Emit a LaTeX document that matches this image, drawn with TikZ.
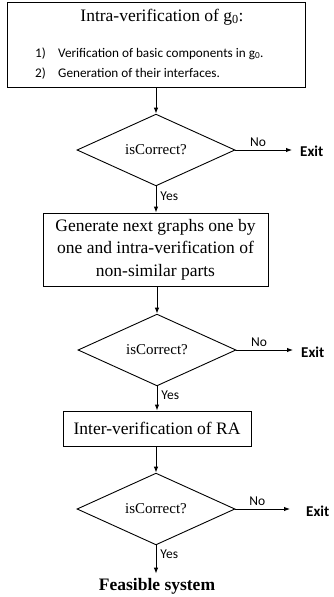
\documentclass[tikz,border=0pt]{standalone}
\usepackage{fontspec}
\setmainfont{Liberation Serif}
\newfontfamily\carlito{Carlito}
\usetikzlibrary{shapes.geometric,arrows.meta}
\begin{document}
\begin{tikzpicture}[x=1pt,y=-1pt,
  box/.style={draw, line width=0.9pt, inner sep=0pt, align=center,
    font=\fontsize{17.5}{22.7}\selectfont},
  decision/.style={diamond, draw, line width=0.9pt, inner sep=0pt,
    minimum width=158pt, minimum height=59pt, font=\fontsize{15}{18}\selectfont},
  flow/.style={-{Latex[length=6pt,width=4.5pt]}, line width=0.9pt},
  tag/.style={font=\carlito\fontsize{13.5}{16}\selectfont, inner sep=0pt},
  exitlbl/.style={font=\carlito\bfseries\fontsize{15}{18}\selectfont,
    inner sep=0pt, anchor=west},
  item/.style={font=\carlito\fontsize{13.2}{16}\selectfont, inner sep=0pt,
    anchor=base west},
]
\useasboundingbox (0,0) rectangle (334,597);

% first stage: intra-verification of g0
\node[box, minimum width=298pt, minimum height=85pt] (init) at (156,44.5) {};
\node[font=\fontsize{17.5}{20}\selectfont, inner sep=0pt, anchor=base]
  (title) at (162,21) {Intra-verification of g\textsubscript{0}:};
\node[item] (n1) at (35,57) {1)};
\node[item] (t1) at (58,57) {Verification of basic components in g\textsubscript{0}.};
\node[item] (n2) at (35,77) {2)};
\node[item] (t2) at (58,77) {Generation of their interfaces.};

% decisions and processing steps
\node[decision] (d1) at (156,150) {isCorrect?};
\node[box, minimum width=225pt, minimum height=73pt] (gen) at (155.5,249.5)
  {Generate next graphs one by\\one and intra-verification of\\non-similar parts};
\node[decision, minimum height=56pt] (d2) at (157,350) {isCorrect?};
\node[box, minimum width=188pt, minimum height=35pt] (inter) at (157,428.5)
  {Inter-verification of RA};
\node[decision, minimum height=58pt] (d3) at (156,509) {isCorrect?};
\node[font=\bfseries\fontsize{17.5}{20}\selectfont, inner sep=0pt, anchor=base]
  (done) at (157,590) {Feasible system};

% exits
\node[exitlbl] (x1) at (300,151) {Exit};
\node[exitlbl] (x2) at (301,352) {Exit};
\node[exitlbl] (x3) at (306,511) {Exit};

% connectors
\draw[flow] (init.south -| d1.north) -- (d1.north);
\draw[flow] (d1.south) -- node[tag, right=4pt, pos=0.38] {Yes} (gen.north -| d1.south);
\draw[flow] (gen.south -| d2.north) -- (d2.north);
\draw[flow] (d2.south) -- node[tag, right=4pt, pos=0.38] {Yes} (inter.north);
\draw[flow] (inter.south -| d3.north) -- (d3.north);
\draw[flow] (d3.south) -- node[tag, right=4pt, pos=0.3] {Yes} ([yshift=4pt]done.north -| d3.south);

\draw[flow] (d1.east) -- node[tag, above=3pt, pos=0.4] {No} ([xshift=-8pt]x1.west |- d1.east);
\draw[flow] (d2.east) -- node[tag, above=3pt, pos=0.4] {No} ([xshift=-8pt]x2.west |- d2.east);
\draw[flow] (d3.east) -- node[tag, above=3pt, pos=0.4] {No} ([xshift=-16pt]x3.west |- d3.east);
\end{tikzpicture}
\end{document}
